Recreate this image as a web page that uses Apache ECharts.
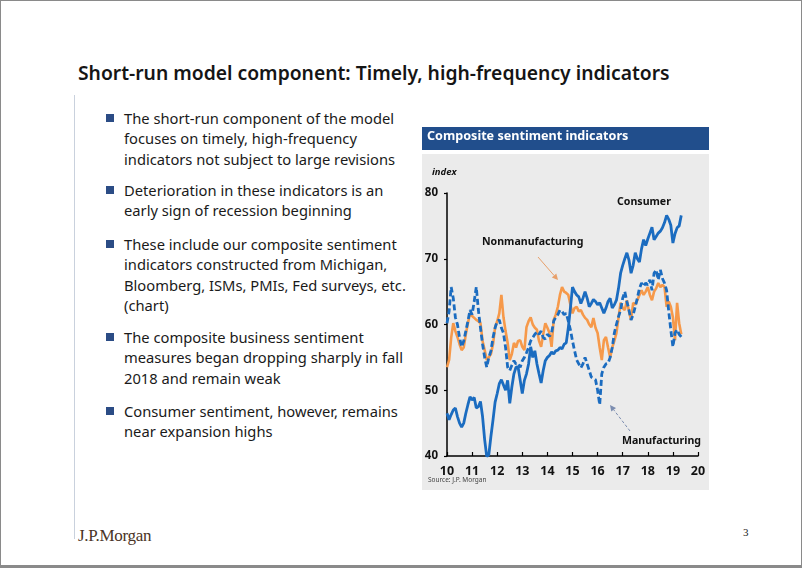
<!DOCTYPE html>
<html><head><meta charset="utf-8">
<script src="https://cdn.jsdelivr.net/npm/echarts/dist/echarts.min.js"></script>
<style>
body{margin:0;width:802px;height:568px;overflow:hidden;background:#fff;position:relative;font-family:"Noto Sans",sans-serif;}
#frame{position:absolute;left:0;top:0;width:800px;height:564px;border:1px solid #8a8a8a;border-bottom:3px solid #8a8a8a;}
#title{position:absolute;left:78px;top:61px;line-height:24px;white-space:nowrap;color:#151515;font-weight:600;}
#vline{position:absolute;left:74px;top:95px;width:1px;height:444px;background:#c9d1dd;}
.p{position:absolute;left:124px;color:#1a1a1a;white-space:nowrap;line-height:20.4px;}
.sq{position:absolute;left:106px;width:8px;height:8px;background:#2b4c85;}
#logo{position:absolute;left:78px;top:526px;font-family:"Liberation Serif",serif;font-size:17px;color:#4a3426;letter-spacing:-0.3px;}
#pg{position:absolute;left:743px;top:526px;font-family:"Liberation Serif",serif;font-size:11px;color:#222;}
#chart{position:absolute;left:420px;top:125px;width:290px;height:367px;}
</style></head>
<body>
<div id="frame"></div>
<div id="title">Short-run model component: Timely, high-frequency indicators</div>
<div id="vline"></div>
<div id="bullets"></div>
<div id="logo">J.P.Morgan</div>
<div id="pg">3</div>
<div id="chart"></div>
<script>
// ---------------- data ----------------
const startYear = 2010;            // first monthly observation: Jan 2010
const xTickLabels = ['10','11','12','13','14','15','16','17','18','19','20'];
const yTicks = [40, 50, 60, 70, 80];

const consumer = [46.5,45.5,46.3,47,47.3,46,45,44.4,45,46.5,47.8,49,
  48.5,48.9,47.3,47.5,48.3,46,42.5,39.9,40.2,43,45.5,48.2,
  49.5,51,51.6,50.8,50,51.5,48,50.5,52.5,53.5,53.5,51.5,
  49.5,51.5,52.5,54,56.6,55,56,54,52.5,51.1,53,54.5,
  55,55.3,55.8,55.5,56,56.1,56.5,56.3,57,57.2,59.5,62.5,
  65.7,65,64.5,64.2,63.2,64,65,64,62.7,63.2,63.8,63.5,
  63,63.3,62.5,61.7,62.5,63.5,64,62.5,63,63.7,65.5,67.8,
  69,70,70.9,69.8,67.8,69,70.9,70,69.5,71.5,72.9,72,
  73,73.9,74.8,72.9,73.4,73.9,74.2,74.7,75.5,76.6,76,75.1,
  72.4,73.8,74.7,75,76.6];

const manufacturing = [60.2,62,65.7,64,61.1,60,58,56.6,57.5,59,60.5,62.2,
  61.5,63.5,65.7,62.2,59.5,57,55,53.5,55,56,58,59.5,
  60.5,60.7,59.5,58.7,56.5,53.5,53,53.8,54.5,54,54.1,53.5,
  54.5,55,55.7,56.5,57.5,58,58.5,58.9,58.5,59,58,57.8,
  58.5,58.2,58.7,60.5,61.1,61.5,62.2,62,61.5,61.7,60.5,59.2,
  57.5,56,54.6,54,53.4,54,55,54,53,52,51.8,51.6,
  50,47.8,52.5,53.5,54,54.1,55,56.5,58.7,60,61.2,62.2,
  64,65,63.5,62.2,60.7,61.5,62.7,64,65.5,66.3,65.8,66.3,
  66,66.8,65.2,67.8,68.3,66.8,68.3,67,66.3,65.2,62,59.2,
  56.6,58.7,59.2,58.5,58.1];

const nonmanufacturing = [53.5,54.6,58,60.2,59,58.1,57,56.1,56.5,58.5,60.2,61.7,
  61.3,61,60.7,60.5,60.2,57.5,56.1,54.6,55,55.5,57,59.6,
  60.5,61.7,64.5,61.1,59,57.2,54.6,55.5,57.2,56.5,57.5,57.6,
  56.6,56.1,59.6,60.5,61.1,60,59.5,59.2,57.5,56.6,58.5,60.2,
  59.5,58.7,56.6,60.7,61.5,62.7,64.5,65.7,65,64.8,64.5,63,
  61.7,62.5,62.7,62,62.2,61.5,61,60.7,60,59.6,61,59.5,
  58.7,56.5,54.6,57.6,58.1,56.5,55,56.5,57.5,58.7,61,63.3,
  62.5,62.2,63.7,62,60.7,63.3,63,63.7,64.5,65.2,64.5,65,
  65.7,64.5,63.7,65,65.5,66.3,65.7,66,65.7,62.7,63.5,62.7,
  61.1,57.6,63.3,60.2,58.5];

const bulletParas = [
  ['The short-run component of the model','focuses on timely, high-frequency','indicators not subject to large revisions'],
  ['Deterioration in these indicators is an','early sign of recession beginning'],
  ['These include our composite sentiment','indicators constructed from Michigan,','Bloomberg, ISMs, PMIs, Fed surveys, etc.','(chart)'],
  ['The composite business sentiment','measures began dropping sharply in fall','2018 and remain weak'],
  ['Consumer sentiment, however, remains','near expansion highs']
];
const paraCenters = [118, 190, 244, 337, 411];

// ---------------- slide text ----------------
function fitSize(text, font, weight, target){
  const c = document.createElement('canvas').getContext('2d');
  c.font = weight + ' 100px ' + font;
  return 100 * target / c.measureText(text).width;
}
const tEl = document.getElementById('title');
tEl.style.fontSize = fitSize(tEl.textContent, '"Noto Sans"', '600', 592).toFixed(2) + 'px';
const bodySize = fitSize('indicators not subject to large revisions', '"Noto Sans"', '400', 271);
const bwrap = document.getElementById('bullets');
bulletParas.forEach((lines, k) => {
  const d = document.createElement('div');
  d.className = 'p';
  d.style.fontSize = bodySize.toFixed(2) + 'px';
  d.style.top = (paraCenters[k] - 10.2) + 'px';
  d.innerHTML = lines.join('<br>');
  bwrap.appendChild(d);
  const s = document.createElement('div');
  s.className = 'sq';
  s.style.top = (paraCenters[k] - 4) + 'px';
  bwrap.appendChild(s);
});

// ---------------- chart ----------------
const toPts = arr => arr.map((v, i) => [startYear + i / 12, v]);
const BLUE = '#1b6cc0', ORANGE = '#f6994a', FONT = '"Noto Sans", sans-serif';
const chart = echarts.init(document.getElementById('chart'), null, {renderer: 'canvas'});

function arrow(x1, y1, x2, y2, color, dashed){
  const ang = Math.atan2(y2 - y1, x2 - x1), L = 6, W = 3;
  const bx = x2 - L * Math.cos(ang), by = y2 - L * Math.sin(ang);
  const px = -Math.sin(ang) * W, py = Math.cos(ang) * W;
  return [
    {type:'line', shape:{x1, y1, x2:bx, y2:by}, style:{stroke:color, lineWidth:1, lineDash: dashed ? [3,2] : null}, z:10},
    {type:'polygon', shape:{points:[[x2,y2],[bx+px,by+py],[bx-px,by-py]]}, style:{fill:color}, z:10}
  ];
}

chart.setOption({
  animation: false,
  graphic: [
    {type:'rect', shape:{x:2, y:2, width:287, height:23}, style:{fill:'#214e8c'}, z:-10},
    {type:'text', left:7, top:5, style:{text:'Composite sentiment indicators', fill:'#fff', font:'bold 12.6px ' + FONT}},
    {type:'rect', shape:{x:2, y:29, width:287, height:336}, style:{fill:'#ebebeb'}, z:-10},
    {type:'text', left:12, top:42, style:{text:'index', fill:'#111', font:'italic bold 9.5px ' + FONT}},
    {type:'text', left:8, top:352, style:{text:'Source: J.P. Morgan', fill:'#444', font:'6.5px ' + FONT}},
    {type:'text', left:197, top:71, style:{text:'Consumer', fill:'#111', font:'bold 10.6px ' + FONT}},
    {type:'text', left:62, top:111, style:{text:'Nonmanufacturing', fill:'#111', font:'bold 10.6px ' + FONT}},
    {type:'text', left:202, top:310, style:{text:'Manufacturing', fill:'#111', font:'bold 10.6px ' + FONT}},
    ...arrow(118, 132, 138, 155, '#e8a06a', false),
    ...arrow(210, 306, 190, 280, '#7c8db0', true)
  ],
  grid: {left:27, top:68, width:251, height:263},
  xAxis: {
    type:'value', min:2010, max:2020, interval:1,
    axisLine:{lineStyle:{color:'#000', width:1.5}},
    axisTick:{inside:true, length:4, lineStyle:{color:'#000', width:1.2}},
    axisLabel:{formatter: v => xTickLabels[Math.round(v - startYear)], color:'#111', fontWeight:'bold', fontSize:12.5, fontFamily:FONT, margin:9},
    splitLine:{show:false}
  },
  yAxis: {
    type:'value', min:yTicks[0], max:yTicks[yTicks.length-1], interval:10,
    axisLine:{show:true, lineStyle:{color:'#000', width:1.5}},
    axisTick:{show:true, length:3, lineStyle:{color:'#000', width:1.2}},
    axisLabel:{color:'#111', fontWeight:'bold', fontSize:11.5, fontFamily:FONT, margin:9},
    splitLine:{show:false}
  },
  series: [
    {name:'Nonmanufacturing', type:'line', data:toPts(nonmanufacturing), showSymbol:false, lineStyle:{color:ORANGE, width:2.6}, itemStyle:{color:ORANGE}, z:2},
    {name:'Manufacturing', type:'line', data:toPts(manufacturing), showSymbol:false, lineStyle:{color:BLUE, width:2.8, type:[6,3]}, itemStyle:{color:BLUE}, z:3},
    {name:'Consumer', type:'line', data:toPts(consumer), showSymbol:false, lineStyle:{color:BLUE, width:2.8}, itemStyle:{color:BLUE}, z:4}
  ]
});
</script>
</body></html>
